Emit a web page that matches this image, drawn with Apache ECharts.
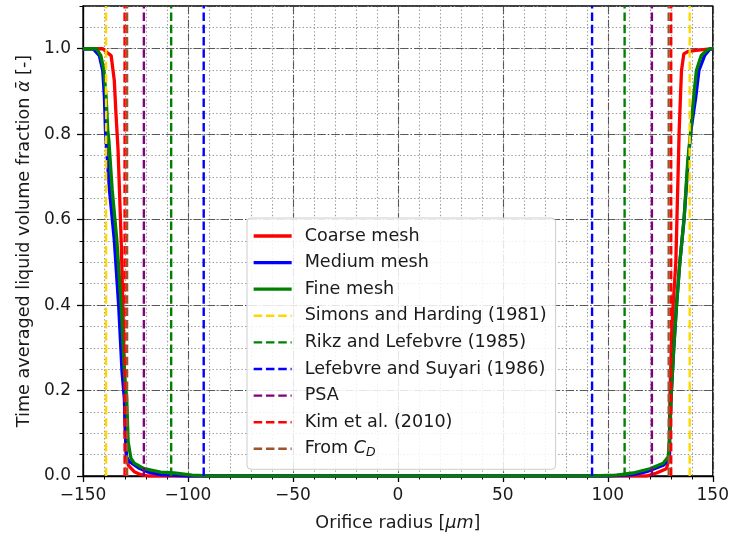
<!DOCTYPE html>
<html>
<head>
<meta charset="utf-8">
<script src="https://cdn.jsdelivr.net/npm/echarts@6/dist/echarts.min.js"></script>
<style>html,body{margin:0;padding:0;background:#fff;overflow:hidden;}#c{width:732px;height:537px;}</style>
</head>
<body>
<div id="c"></div>
<script>
// ---- data ----
const coarseX = [-150, -140.6, -138.2, -136.6, -135.1, -134.3, -133.3, -131.8, -131.0, -130.3, -129.8, -129.3, -128.4, -125.6, -122.4, -119, 118.5, 123.2, 127.9, 129.2, 129.6, 130.5, 131.1, 132.4, 134.0, 134.6, 135.1, 136.2, 138, 142, 150];
const coarseY = [1.0, 1.0, 0.99, 0.984, 0.926, 0.848, 0.763, 0.55, 0.40, 0.24, 0.10, 0.04, 0.025, 0.01, 0.003, 0, 0, 0.007, 0.017, 0.04, 0.19, 0.344, 0.398, 0.5, 0.809, 0.887, 0.949, 0.988, 0.993, 0.996, 1.0];

const mediumX = [-150, -145.2, -142.2, -140.6, -139.8, -139.3, -138.7, -137.4, -135.1, -133.0, -131.4, -130.3, -129.8, -129.3, -128.0, -123.5, -118.8, -113, -100, 100, 112, 118.5, 126.4, 129.2, 129.9, 130.2, 131.4, 132.7, 134.3, 136.3, 138.2, 139.6, 141.9, 143.4, 146.1, 148.8, 150];
const mediumY = [1.0, 1.0, 0.984, 0.949, 0.887, 0.809, 0.763, 0.67, 0.553, 0.398, 0.244, 0.181, 0.10, 0.045, 0.034, 0.019, 0.009, 0.003, 0, 0, 0.003, 0.01, 0.025, 0.04, 0.158, 0.189, 0.298, 0.398, 0.5, 0.6, 0.732, 0.809, 0.887, 0.949, 0.984, 1.0, 1.0];

const fineX = [-150, -143.6, -141.5, -140.0, -139.0, -138.2, -137.7, -136.1, -133.9, -131.8, -130.3, -129.2, -128.5, -127.2, -125.6, -120.9, -113, -106.6, -98, -90, 92, 104.3, 112, 120, 126.4, 128.8, 129.6, 130.0, 130.2, 131.4, 132.7, 134.3, 136.3, 138.0, 139.5, 140.9, 142.2, 144.5, 147.5, 149, 150];
const fineY = [1.0, 1.0, 0.984, 0.949, 0.887, 0.809, 0.786, 0.67, 0.553, 0.398, 0.244, 0.181, 0.08, 0.042, 0.030, 0.017, 0.009, 0.007, 0.002, 0, 0, 0.002, 0.007, 0.017, 0.030, 0.045, 0.10, 0.16, 0.189, 0.298, 0.398, 0.5, 0.6, 0.732, 0.809, 0.887, 0.949, 0.984, 0.998, 1.0, 1.0];

const meshNames = ['Coarse mesh', 'Medium mesh', 'Fine mesh'];
const refNames = ['Simons and Harding (1981)', 'Rikz and Lefebvre (1985)', 'Lefebvre and Suyari (1986)', 'PSA', 'Kim et al. (2010)', 'From CD'];
const refRadius = [139, 108, 92.5, 121, 130.2, 129.0];

const xRange = [-150, 150];
const yRange = [0, 1.1];
const xTickLabels = ['-150', '-100', '-50', '0', '50', '100', '150'];
const yTickLabels = ['0.0', '0.2', '0.4', '0.6', '0.8', '1.0'];

// ---- styling ----
const FONT = 'DejaVu Sans';
const FS = 17;      // tick labels
const FL = 17.6;    // axis names and legend
const TXT = '#1a1a1a';
const meshColors = ['#ff0000', '#0000ff', '#008000'];
const refColors = ['#ffd700', '#008000', '#0000ff', '#800080', '#ff0000', '#a0522d'];
const MESH_W = 3.3, REF_W = 2.4, REF_DASH = [8.5, 3.8];
const majorGrid = {show: true, lineStyle: {color: '#3a3a3a', width: 1.1, type: [8, 2.2, 1.4, 2.2], opacity: 0.8}};
const minorGrid = {show: true, lineStyle: {color: '#9a9a9a', width: 1.1, type: [1.4, 2.2]}};

function zip(xs, ys) { return xs.map((x, i) => [x, ys[i]]); }

const series = [];
const meshData = [zip(coarseX, coarseY), zip(mediumX, mediumY), zip(fineX, fineY)];
meshNames.forEach((n, i) => {
  series.push({
    name: n, type: 'line', data: meshData[i], showSymbol: false, symbol: 'none', symbolSize: 0,
    lineStyle: {color: meshColors[i], width: MESH_W}, itemStyle: {color: meshColors[i]},
    z: 3 + i, animation: false, clip: true
  });
});
refNames.forEach((n, i) => {
  [-1, 1].forEach(s => {
    const r = s * refRadius[i];
    series.push({
      name: n, type: 'line', data: [[r, yRange[0]], [r, yRange[1]]], showSymbol: false, symbol: 'none', symbolSize: 0,
      lineStyle: {color: refColors[i], width: REF_W, type: REF_DASH}, itemStyle: {color: refColors[i]},
      z: 10 + i, animation: false
    });
  });
});

const fmtX = v => {
  const idx = xTickLabels.indexOf(String(Math.round(v)));
  return idx >= 0 ? xTickLabels[idx].replace('-', '\u2212') : '';
};
const fmtY = v => {
  const s = v.toFixed(1);
  return yTickLabels.indexOf(s) >= 0 && Math.abs(v - parseFloat(s)) < 1e-6 ? s : '';
};

const legendData = meshNames.map((n, i) => ({name: n, lineStyle: {width: MESH_W, color: meshColors[i]}}))
  .concat(refNames.map((n, i) => ({name: n, lineStyle: {width: REF_W, color: refColors[i], type: REF_DASH}})));

const chart = echarts.init(document.getElementById('c'), null, {renderer: 'canvas', width: 732, height: 537});
chart.setOption({
  animation: false,
  backgroundColor: '#fff',
  textStyle: {fontFamily: FONT},
  grid: {left: 83, right: 16, top: 6, bottom: 59, show: true, borderColor: '#000', borderWidth: 1.3, backgroundColor: 'transparent'},
  xAxis: [
    {type: 'value', min: xRange[0], max: xRange[1], interval: 50, position: 'bottom', z: 1,
      axisLine: {show: true, onZero: false, lineStyle: {color: '#000', width: 1.3}},
      axisTick: {show: true, length: 6, lineStyle: {color: '#000', width: 1.3}},
      axisLabel: {formatter: fmtX, fontSize: FS, color: TXT, margin: 11, fontFamily: FONT},
      splitLine: majorGrid,
      name: 'Orifice radius [{i|\u03bcm}]', nameLocation: 'middle', nameGap: 38,
      nameTextStyle: {fontSize: FL, color: TXT, fontFamily: FONT, rich: {i: {fontStyle: 'italic', fontSize: FL, fontFamily: FONT, color: TXT}}}
    },
    {type: 'value', min: xRange[0], max: xRange[1], interval: 10, position: 'bottom', z: 0,
      axisLine: {show: false, onZero: false}, axisTick: {show: true, length: 3.5, lineStyle: {color: '#000', width: 1}},
      axisLabel: {show: false}, splitLine: minorGrid}
  ],
  yAxis: [
    {type: 'value', min: yRange[0], max: yRange[1], interval: 0.2, position: 'left', z: 1,
      axisLine: {show: true, onZero: false, lineStyle: {color: '#000', width: 1.3}},
      axisTick: {show: true, length: 6, lineStyle: {color: '#000', width: 1.3}},
      axisLabel: {formatter: fmtY, fontSize: FS, color: TXT, margin: 12, fontFamily: FONT, showMaxLabel: false},
      splitLine: majorGrid,
      name: 'Time averaged liquid volume fraction {i|\u1fb1} [-]', nameLocation: 'middle', nameGap: 50,
      nameTextStyle: {fontSize: FL, color: TXT, fontFamily: FONT, rich: {i: {fontStyle: 'italic', fontSize: FL, fontFamily: FONT, color: TXT}}}
    },
    {type: 'value', min: yRange[0], max: yRange[1], interval: 0.05, position: 'left', z: 0,
      axisLine: {show: false, onZero: false}, axisTick: {show: true, length: 3.5, lineStyle: {color: '#000', width: 1}},
      axisLabel: {show: false}, splitLine: minorGrid}
  ],
  legend: {
    orient: 'vertical', left: 247, top: 218, padding: [9, 9, 10, 5], itemGap: 8.6,
    itemWidth: 38, itemHeight: 18,
    itemStyle: {opacity: 0, borderWidth: 0},
    backgroundColor: 'rgba(255,255,255,0.85)', borderColor: '#cccccc', borderWidth: 1, borderRadius: 4,
    data: legendData,
    textStyle: {fontSize: FL, lineHeight: 18, color: TXT, fontFamily: FONT, padding: [0, 0, 0, 8],
      rich: {i: {fontStyle: 'italic', fontSize: FL, lineHeight: 18, fontFamily: FONT, color: TXT},
             s: {fontStyle: 'italic', fontSize: 12.5, fontFamily: FONT, color: TXT, padding: [8, 0, 0, 0]}}},
    formatter: n => n === 'From CD' ? 'From {i|C}{s|D}' : n
  },
  series: series
});
</script>
</body>
</html>
